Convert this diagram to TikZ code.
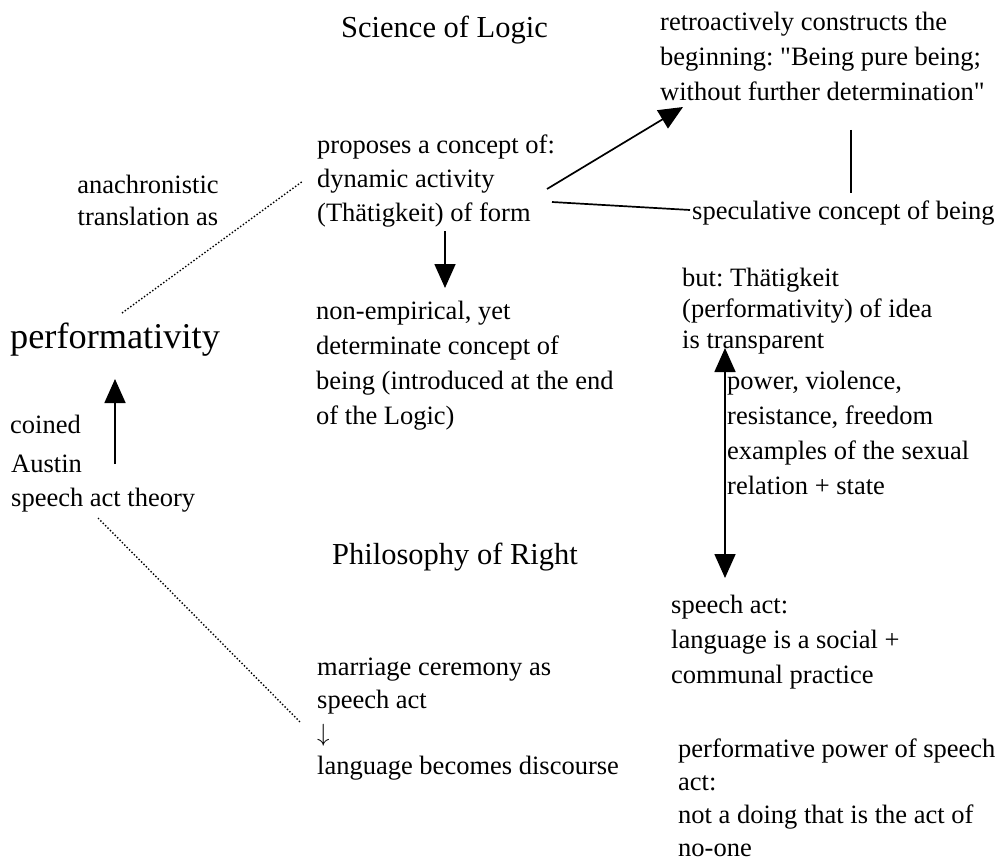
\documentclass[tikz,border=0pt]{standalone}
\usepackage{fontspec}
% TeXOff keeps the straight double quotes straight
\setmainfont{Liberation Serif}[Ligatures=TeXOff]
\frenchspacing
\usetikzlibrary{arrows.meta}
% body text at a given line spacing
\newcommand{\bodyat}[1]{\fontsize{26.5}{#1}\selectfont}
\newcommand{\titlefont}{\fontsize{30.5}{36}\selectfont}
\newcommand{\bigfont}{\fontsize{36.3}{42}\selectfont}
\tikzset{
  txt/.style={inner sep=0pt, anchor=north west, align=left, font=\bodyat{#1}},
  txt/.default=34,
  ctxt/.style={inner sep=0pt, anchor=north, align=center, font=\bodyat{#1}},
  ctxt/.default=32,
  line1/.style={inner sep=0pt, anchor=base west, font=\bodyat{34}},
  ttl/.style={inner sep=0pt, anchor=base west, font=\titlefont},
  arr/.style={line width=1.7pt, -{Triangle[width=21pt,length=24pt]}},
  darr/.style={line width=1.7pt, {Triangle[width=21pt,length=24pt]}-{Triangle[width=21pt,length=24pt]}},
  plain/.style={line width=1.7pt},
  dots/.style={line width=1.4pt, dotted}
}
\begin{document}
\begin{tikzpicture}[x=1pt,y=-1pt]
\useasboundingbox (0,0) rectangle (1004,864);

% headings
\node[ttl] (sol) at (341,38) {Science of Logic};
\node[ttl] (phr) at (332,564) {Philosophy of Right};

% Science of Logic branch (node top = first baseline - 0.7 x line spacing)
\node[txt=35] (retro) at (660,{30-24.5}) {\strut retroactively constructs the\\beginning: "Being pure being;\\without further determination"};
\node[txt=34] (prop) at (317,{153-23.8}) {\strut proposes a concept of:\\dynamic activity\\(Thätigkeit) of form};
\node[line1] (spec) at (692,219) {speculative concept of being};
\node[txt=35] (nonemp) at (316,{319-24.5}) {\strut non-empirical, yet\\determinate concept of\\being (introduced at the end\\of the Logic)};
\node[txt=31] (trans) at (682,{286-21.7}) {\strut but: Thätigkeit\\(performativity) of idea\\is transparent};
\node[txt=35] (power) at (727,{389-24.5}) {\strut power, violence,\\resistance, freedom\\examples of the sexual\\relation + state};
\node[txt=35] (social) at (671,{613-24.5}) {\strut speech act:\\language is a social +\\communal practice};
\node[txt=33] (perfpow) at (678,{757-23.1}) {\strut performative power of speech\\act:\\not a doing that is the act of\\no-one};

% left column
\node[ctxt=32] (anach) at (148,{193-22.4}) {\strut anachronistic\\translation as};
\node[inner sep=0pt, anchor=base west, font=\bigfont] (perf) at (10,348) {performativity};
\node[line1] (coined) at (10,433) {coined};
\node[txt=34] (austin) at (11,{472-23.8}) {\strut Austin\\speech act theory};

% Philosophy of Right branch
\node[txt=33] (marr) at (317,{675-23.1}) {\strut marriage ceremony as\\speech act\\$\downarrow$\\language becomes discourse};

% connector end points
\coordinate (p1) at (547,189);
\coordinate (p2) at (683,107);
\coordinate (q1) at (552,202);
\coordinate (q2) at (690,210);
\coordinate (v1) at (851,130);
\coordinate (v2) at (851,193);
\coordinate (d1) at (445,231);
\coordinate (d2) at (445,288);
\coordinate (u1) at (115,464);
\coordinate (u2) at (115,379);
\coordinate (w1) at (725,348);
\coordinate (w2) at (725,578);
\coordinate (t1) at (122,313);
\coordinate (t2) at (303,181);
\coordinate (s1) at (98,518);
\coordinate (s2) at (300,722);

\draw[arr] (p1) -- (p2);
\draw[plain] (q1) -- (q2);
\draw[plain] (v1) -- (v2);
\draw[arr] (d1) -- (d2);
\draw[arr] (u1) -- (u2);
\draw[darr] (w1) -- (w2);
\draw[dots] (t1) -- (t2);
\draw[dots] (s1) -- (s2);
\end{tikzpicture}
\end{document}
